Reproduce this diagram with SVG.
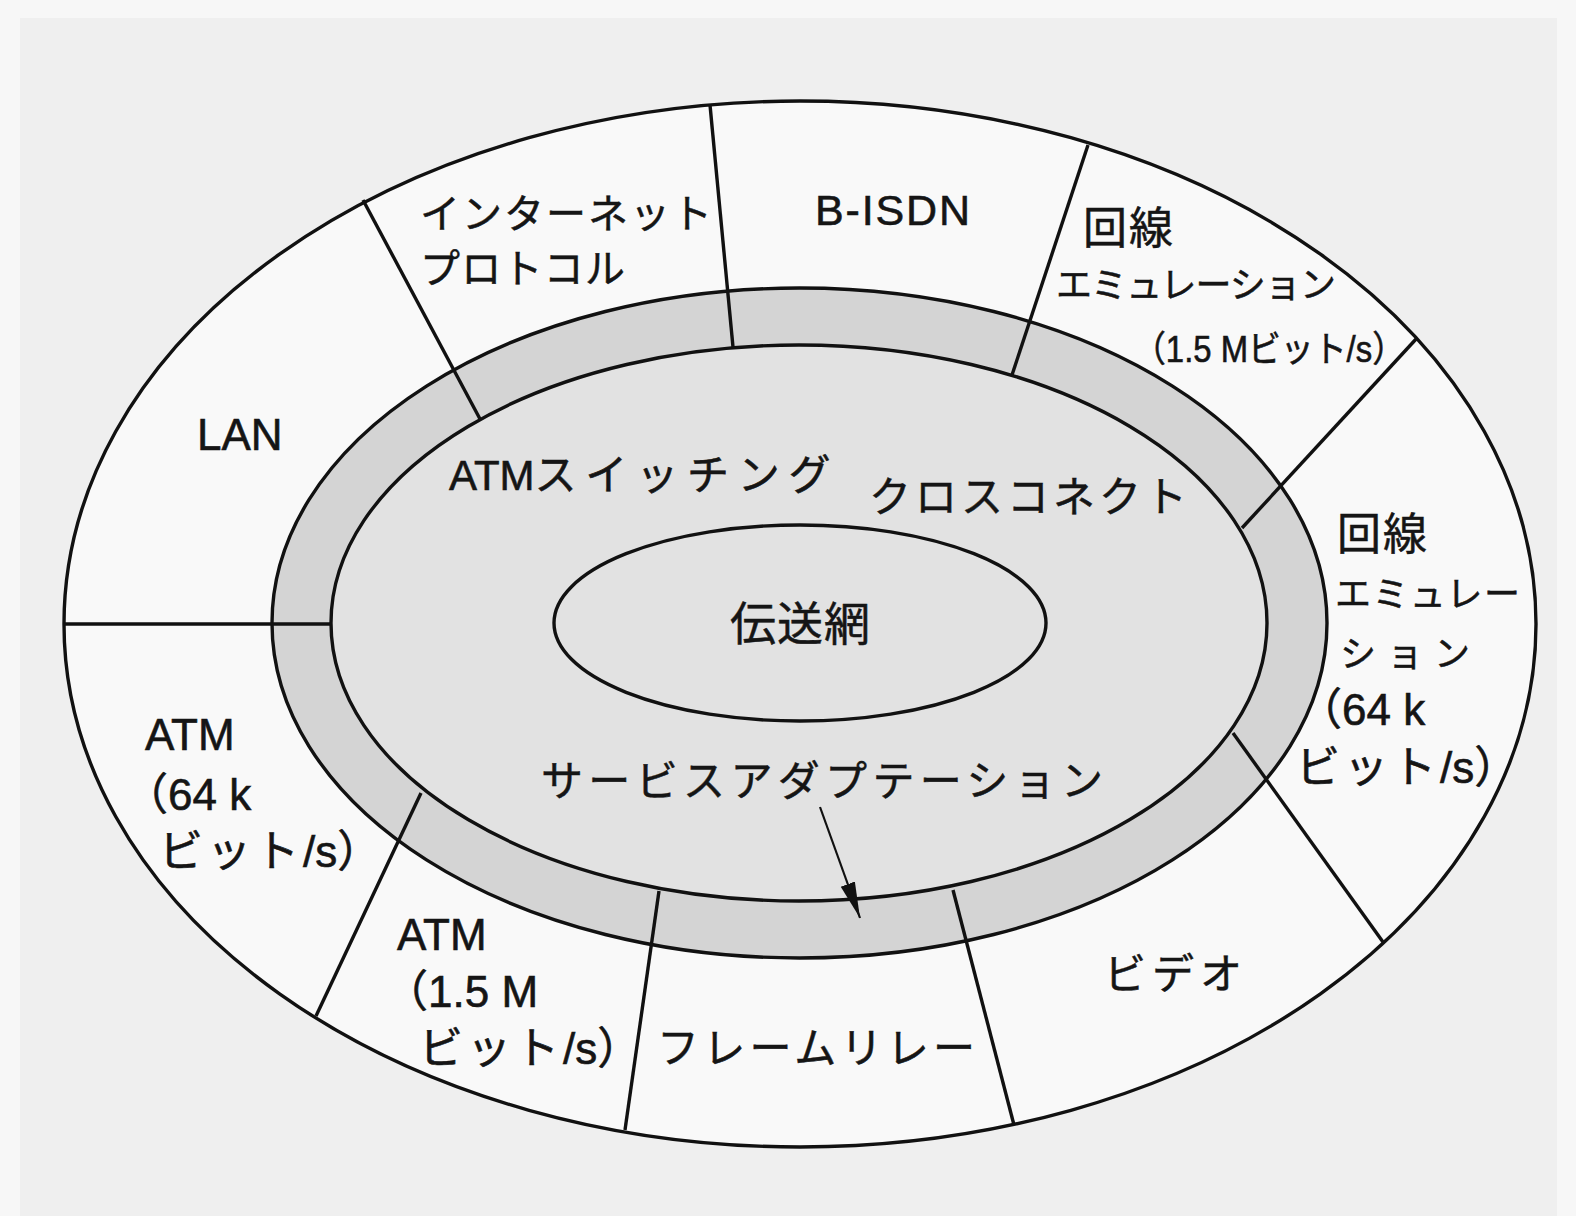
<svg xmlns="http://www.w3.org/2000/svg" width="1576" height="1216" viewBox="0 0 1576 1216">
<defs>
<style>
.ln{stroke:#111;stroke-width:3.4;fill:none}
.el{stroke:#111;stroke-width:3.4}
.t{font-family:"Liberation Sans","Noto Sans CJK JP",sans-serif;fill:#151515;stroke:#151515;stroke-width:0.6}
.jp{font-family:"Noto Sans CJK JP","Liberation Sans",sans-serif;fill:#151515;stroke:#151515;stroke-width:0.5}
</style>
<marker id="ah" markerUnits="userSpaceOnUse" markerWidth="40" markerHeight="20" viewBox="0 0 40 20" refX="36" refY="10" orient="auto">
<path d="M0,2.5 L36,10 L0,17.5 Z" fill="#111"/>
</marker>
</defs>
<rect x="0" y="0" width="1576" height="1216" fill="#f7f7f7"/>
<rect x="20" y="18" width="1537" height="1198" fill="#efefef"/>

<g id="outer-ring">
<ellipse class="el" cx="800" cy="624" rx="736" ry="523" fill="#f9f9f9"/>
</g>
<g id="adaptation-ring">
<ellipse class="el" cx="799.5" cy="623" rx="527.5" ry="335" fill="#d4d4d4"/>
</g>
<g id="switching-area">
<ellipse class="el" cx="799" cy="623" rx="468" ry="278" fill="#e2e2e2"/>
<text class="t" x="449" y="490" font-size="42">ATM<tspan letter-spacing="8.8">スイッチング</tspan></text>
<text class="jp" x="869" y="512" font-size="42" textLength="318">クロスコネクト</text>
<text class="jp" x="541" y="796" font-size="42" textLength="562">サービスアダプテーション</text>
</g>
<g id="transmission-network">
<ellipse class="el" cx="800" cy="623" rx="246" ry="98" fill="#e2e2e2"/>
<text class="jp" x="730" y="640" font-size="46" textLength="140">伝送網</text>
</g>

<g id="dividers">
<line class="ln" x1="64" y1="624" x2="331" y2="624"/>
<line class="ln" x1="363" y1="200" x2="480" y2="419"/>
<line class="ln" x1="710" y1="105" x2="733" y2="347"/>
<line class="ln" x1="1088" y1="145" x2="1012" y2="375"/>
<line class="ln" x1="1417" y1="338" x2="1242" y2="528"/>
<line class="ln" x1="1383" y1="942" x2="1233" y2="733"/>
<line class="ln" x1="1014" y1="1125" x2="953" y2="890"/>
<line class="ln" x1="625" y1="1130" x2="659" y2="891"/>
<line class="ln" x1="316" y1="1016" x2="421" y2="793"/>
</g>

<g id="lan">
<text class="t" x="197" y="450" font-size="44">LAN</text>
</g>
<g id="internet-protocol">
<text class="jp" x="420" y="228" font-size="40" textLength="292">インターネット</text>
<text class="jp" x="420" y="283" font-size="40" textLength="205">プロトコル</text>
</g>
<g id="b-isdn">
<text class="t" x="815" y="225" font-size="43" textLength="155">B-ISDN</text>
</g>
<g id="circuit-emulation-1-5m">
<text class="jp" x="1083" y="244" font-size="44" textLength="90">回線</text>
<text class="jp" x="1056" y="298" font-size="36" textLength="280">エミュレーション</text>
<text class="t" x="1133" y="362" font-size="36" textLength="272" lengthAdjust="spacingAndGlyphs">（1.5 Mビット/s）</text>
</g>
<g id="circuit-emulation-64k">
<text class="jp" x="1337" y="550" font-size="44" textLength="90">回線</text>
<text class="jp" x="1335" y="607" font-size="36" textLength="185">エミュレー</text>
<text class="jp" x="1340" y="667" font-size="36" textLength="130">ション</text>
<text class="t" x="1298" y="725" font-size="44">（64 k</text>
<text class="t" x="1296" y="783" font-size="44"><tspan letter-spacing="4">ビット</tspan>/s）</text>
</g>
<g id="video">
<text class="jp" x="1104" y="989" font-size="42" textLength="138">ビデオ</text>
</g>
<g id="frame-relay">
<text class="jp" x="657" y="1063" font-size="42" textLength="318">フレームリレー</text>
</g>
<g id="atm-1-5m">
<text class="t" x="397" y="950" font-size="44">ATM</text>
<text class="t" x="384" y="1007" font-size="44">（1.5 M</text>
<text class="t" x="419" y="1064" font-size="44"><tspan letter-spacing="4">ビット</tspan>/s）</text>
</g>
<g id="atm-64k">
<text class="t" x="145" y="750" font-size="44">ATM</text>
<text class="t" x="124" y="810" font-size="44">（64 k</text>
<text class="t" x="159" y="867" font-size="44"><tspan letter-spacing="4">ビット</tspan>/s）</text>
</g>

<g id="connectors">
<line x1="820" y1="807" x2="860" y2="918" stroke="#111" stroke-width="2.2" marker-end="url(#ah)"/>
</g>
</svg>
